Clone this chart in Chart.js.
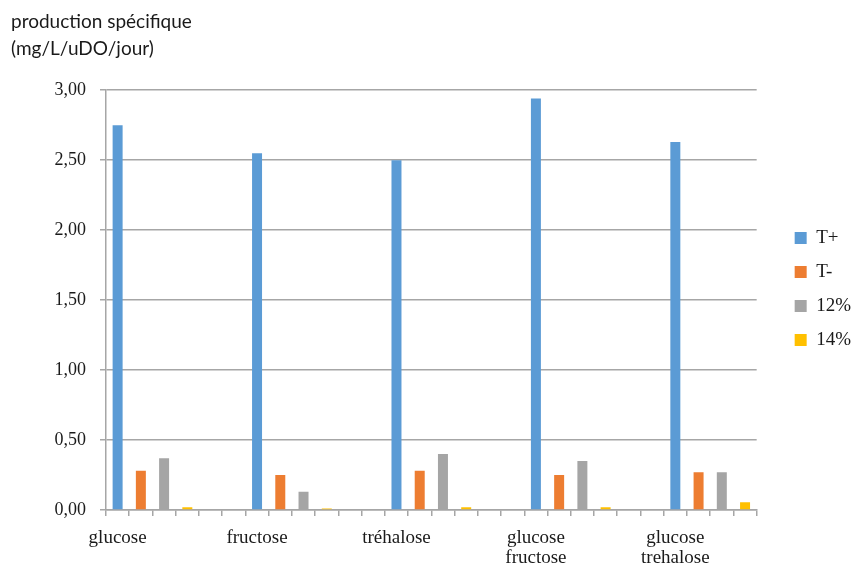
<!DOCTYPE html>
<html>
<head>
<meta charset="utf-8">
<script src="https://cdn.jsdelivr.net/npm/chart.js@4.4.1/dist/chart.umd.min.js"></script>
<style>
  html, body { margin: 0; padding: 0; background: #fff; }
  #wrap { width: 861px; height: 564px; }
</style>
</head>
<body>
<div id="wrap"><canvas id="prodChart" width="861" height="564"></canvas></div>
<script>
// data
const categories = ['glucose', 'fructose', 'tréhalose', ['glucose', 'fructose'], ['glucose', 'trehalose']];
const seriesNames = ['T+', 'T-', '12%', '14%'];
const tPlus = [2.75, 2.55, 2.50, 2.94, 2.63];
const tMinus = [0.28, 0.25, 0.28, 0.25, 0.27];
const pct12 = [0.37, 0.13, 0.40, 0.35, 0.27];
const pct14 = [0.02, 0.01, 0.02, 0.02, 0.055];
const yTicks = [0, 0.5, 1, 1.5, 2, 2.5, 3];

const seriesValues = [tPlus, tMinus, pct12, pct14];
const seriesColors = ['#5B9BD5', '#ED7D31', '#A5A5A5', '#FFC000'];

// each bar has its own slot on the axis, two empty slots between groups
const slotsPerGroup = 6;
const labels = [];
categories.forEach((c, g) => {
    const n = g === categories.length - 1 ? seriesNames.length : slotsPerGroup;
    for (let s = 0; s < n; s++) labels.push(s === 0 ? c : '');
});

const datasets = seriesNames.map((name, i) => {
    const data = labels.map(() => null);
    seriesValues[i].forEach((v, g) => { data[g * slotsPerGroup + i] = v; });
    return {
        label: name,
        data: data,
        backgroundColor: seriesColors[i],
        borderWidth: 0,
        barPercentage: 0.43,
        categoryPercentage: 1
    };
});

const serif = 'Liberation Serif';
const gridColor = '#a6a6a6';

const ctx = document.getElementById('prodChart').getContext('2d');
const prodChart = new Chart(ctx, {
    type: 'bar',
    data: { labels: labels, datasets: datasets },
    options: {
        responsive: false,
        animation: false,
        layout: { padding: { left: 11, right: 0, top: 0, bottom: 0 } },
        plugins: {
            title: {
                display: true,
                text: ['production spécifique', '(mg/L/uDO/jour)'],
                align: 'start',
                color: '#1a1a1a',
                font: { family: 'Lato', size: 19, weight: 'normal', lineHeight: 1.4 },
                padding: { top: 9, bottom: 28 }
            },
            legend: {
                position: 'right',
                align: 'start',
                // empty title only pushes the items down
                title: { display: true, text: '', font: { size: 12, lineHeight: 1.2 }, padding: { top: 0, bottom: 199 } },
                labels: {
                    boxWidth: 12,
                    boxHeight: 12,
                    padding: 15,
                    color: '#1a1a1a',
                    font: { family: serif, size: 19 }
                }
            },
            tooltip: { enabled: false }
        },
        scales: {
            x: {
                stacked: true,
                afterFit: (s) => { s.height = 54; },
                grid: {
                    display: true,
                    drawOnChartArea: false,
                    drawTicks: true,
                    tickLength: 6,
                    color: gridColor,
                    lineWidth: 1.5
                },
                border: { color: gridColor, width: 1.5 },
                ticks: {
                    autoSkip: false,
                    maxRotation: 0,
                    padding: 12,
                    color: '#1a1a1a',
                    font: { family: serif, size: 19, lineHeight: 1.05 }
                }
            },
            y: {
                min: 0,
                max: 3,
                afterFit: (s) => { s.width = 95; },
                afterBuildTicks: (s) => { s.ticks = yTicks.map(v => ({ value: v })); },
                grid: {
                    color: gridColor,
                    lineWidth: 1.5,
                    tickLength: 6
                },
                border: { color: gridColor, width: 1.5 },
                ticks: {
                    padding: 14,
                    color: '#1a1a1a',
                    font: { family: serif, size: 18 },
                    callback: (v) => Number(v).toFixed(2).replace('.', ',')
                }
            },
            gap: {
                type: 'linear',
                position: 'right',
                display: true,
                afterFit: (s) => { s.width = 23; },
                grid: { display: false },
                border: { display: false },
                ticks: { display: false }
            }
        }
    }
});
</script>
</body>
</html>
